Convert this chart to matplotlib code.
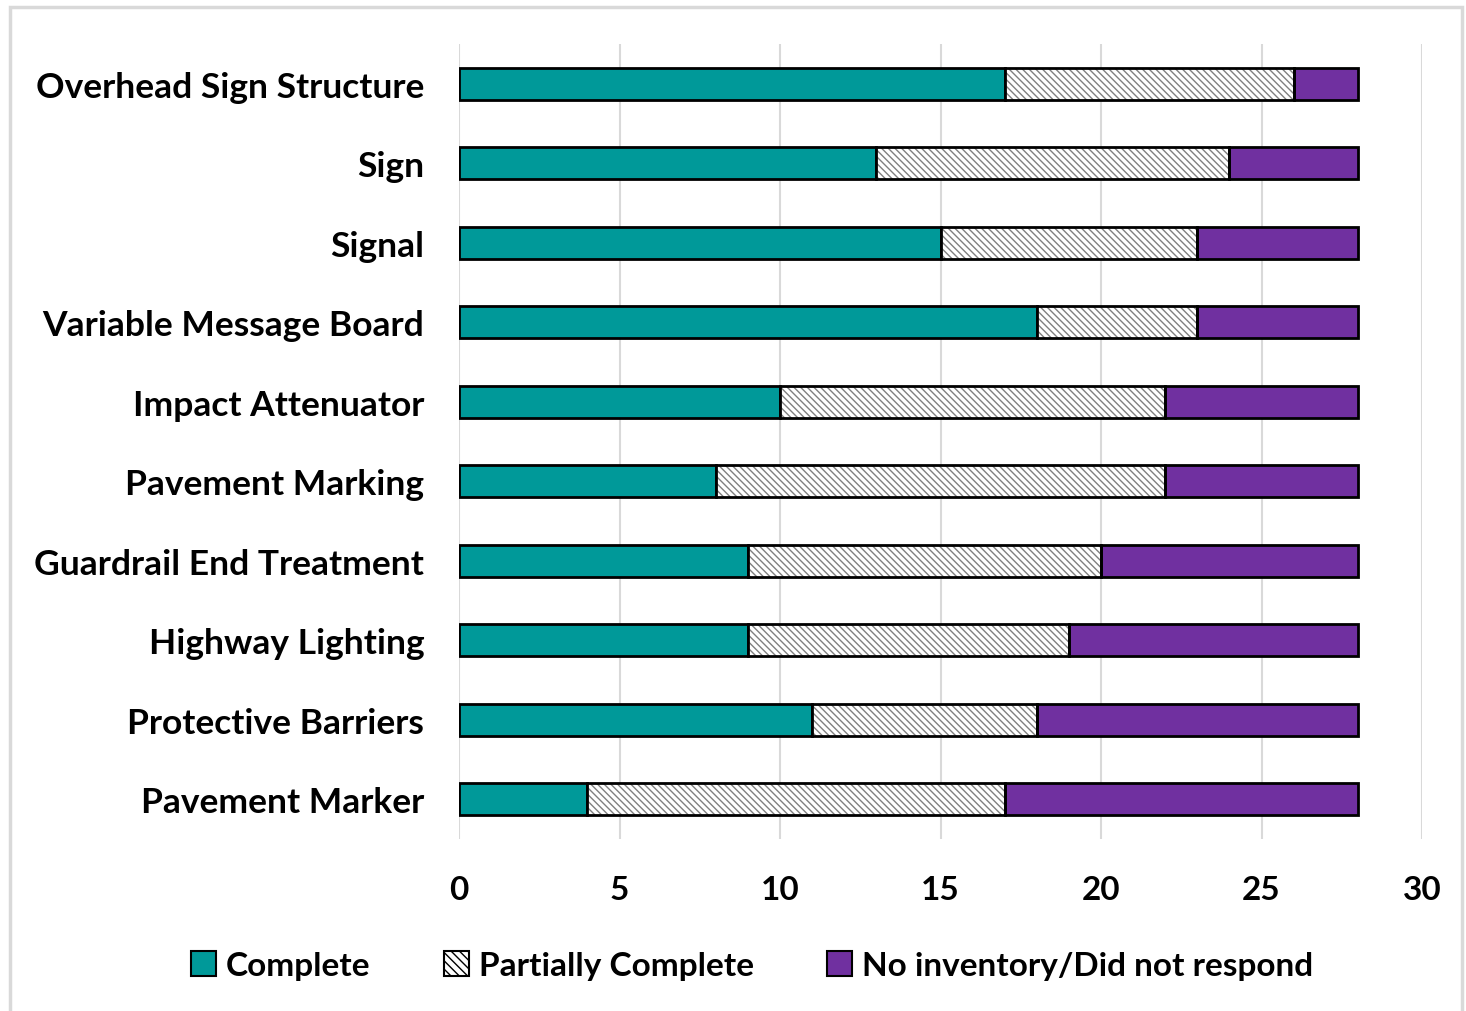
import numpy as np
import matplotlib.pyplot as plt
from matplotlib.patches import Patch, Rectangle

plt.rcParams['font.family'] = ['Lato', 'DejaVu Sans']
plt.rcParams['font.weight'] = 'bold'
plt.rcParams['hatch.linewidth'] = 1.0

categories = ['Overhead Sign Structure', 'Sign', 'Signal', 'Variable Message Board',
              'Impact Attenuator', 'Pavement Marking', 'Guardrail End Treatment',
              'Highway Lighting', 'Protective Barriers', 'Pavement Marker']
complete = [17, 13, 15, 18, 10, 8, 9, 9, 11, 4]
partial = [9, 11, 8, 5, 12, 14, 11, 10, 7, 13]
no_inv = [2, 4, 5, 5, 6, 6, 8, 9, 10, 11]
xticks = [0, 5, 10, 15, 20, 25, 30]

teal = '#009999'
purple = '#7030A0'

fig = plt.figure(figsize=(14.66, 10.12), dpi=100)
ax = fig.add_axes([0.3131, 0.170, 0.6569, 0.7855])

y = np.arange(len(categories))
h = 0.4
complete = np.array(complete)
partial = np.array(partial)
no_inv = np.array(no_inv)

ax.barh(y, complete, height=h, color=teal, edgecolor='black', linewidth=2, zorder=3)
# hatched middle segment: grey hatch first, then black outline on top
ax.barh(y, partial, left=complete, height=h, color='white', edgecolor='#808080',
        hatch='\\\\\\\\\\', linewidth=0, zorder=3)
ax.barh(y, partial, left=complete, height=h, fill=False, edgecolor='black',
        linewidth=2, zorder=4)
ax.barh(y, no_inv, left=complete + partial, height=h, color=purple,
        edgecolor='black', linewidth=2, zorder=3)

ax.set_ylim(len(categories) - 0.5, -0.5)
ax.set_xlim(0, 30)
ax.set_yticks(y)
ax.set_yticklabels(categories, fontsize=25.5, fontweight='bold')
ax.set_xticks(xticks)
ax.set_xticklabels([str(t) for t in xticks], fontsize=24, fontweight='bold')
ax.tick_params(axis='y', length=0, pad=25)
ax.tick_params(axis='x', length=0, pad=26)
ax.xaxis.grid(True, color='#d9d9d9', linewidth=1.5, zorder=0)
ax.set_axisbelow(True)
for s in ax.spines.values():
    s.set_visible(False)

handles = [Patch(facecolor=teal, edgecolor='black', linewidth=1.5),
           Patch(facecolor='white', edgecolor='black', hatch='\\\\\\\\', linewidth=1.5),
           Patch(facecolor=purple, edgecolor='black', linewidth=1.5)]
fig.legend(handles, ['Complete', 'Partially Complete', 'No inventory/Did not respond'],
           loc='center', bbox_to_anchor=(0.513, 0.045), ncol=3, frameon=False,
           fontsize=24, handlelength=0.75, handleheight=0.75, handletextpad=0.3,
           columnspacing=2.2)

# light frame around the chart area
fig.patches.append(Rectangle((0.007, -0.01), 0.99, 1.002, transform=fig.transFigure,
                             fill=False, edgecolor='#d9d9d9', linewidth=2.5))

fig.savefig('out.png', dpi=100)
